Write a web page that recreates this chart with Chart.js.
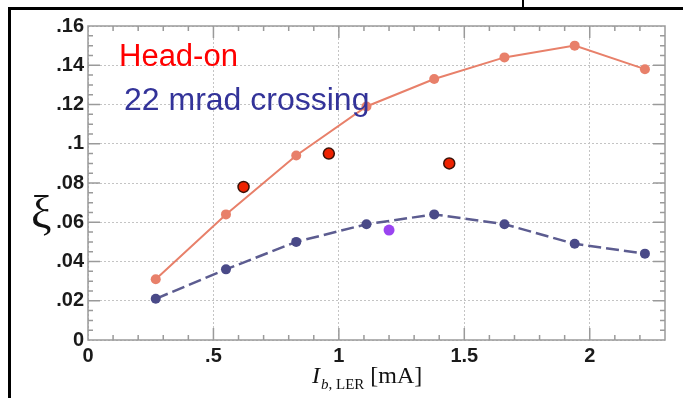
<!DOCTYPE html>
<html>
<head>
<meta charset="utf-8">
<script src="https://cdn.jsdelivr.net/npm/chart.js@4/dist/chart.umd.min.js"></script>
<style>
  body { margin: 0; background: #fff; }
  #wrap { position: relative; width: 683px; height: 398px; overflow: hidden; }
  #chart { position: absolute; left: 0; top: 0; }
  .line { position: absolute; background: #000; }
  .note { position: absolute; font-family: "Liberation Sans", Arial, sans-serif; font-size: 31px; line-height: 31px; white-space: nowrap; }
  .serif { position: absolute; font-family: "Liberation Serif", "Times New Roman", serif; white-space: nowrap; color: #111; }
</style>
</head>
<body>
<div id="wrap">
  <canvas id="chart" width="683" height="398"></canvas>
  <div class="line" style="left:8px;top:7px;width:675px;height:3px"></div>
  <div class="line" style="left:8px;top:7px;width:3px;height:391px"></div>
  <div class="line" style="left:522px;top:0;width:2px;height:9px"></div>
  <div class="note" style="left:119px;top:40px;color:#ff0000">Head-on</div>
  <div class="note" style="left:124px;top:83px;color:#333399;font-size:32px;line-height:32px">22 mrad crossing</div>
  <div class="serif" style="left:31px;top:190px;font-size:46px;line-height:46px">ξ</div>
  <div class="serif" style="left:312px;top:363px;font-size:24px;line-height:24px"><i>I</i><span style="font-size:15px;position:relative;top:6px;margin-left:1px"><i>b</i>, LER</span> [mA]</div>
</div>
<script>
// beam current per bunch [mA]
var currents = [0.27, 0.55, 0.83, 1.11, 1.38, 1.66, 1.94, 2.22];
// beam-beam parameter, simulation
var headOn = [0.031, 0.064, 0.094, 0.119, 0.133, 0.144, 0.150, 0.138];
var crossing = [0.021, 0.036, 0.050, 0.059, 0.064, 0.059, 0.049, 0.044];
// measured points
var measHeadOnX = [0.62, 0.96, 1.44];
var measHeadOnY = [0.078, 0.095, 0.090];
var measCrossX = [1.20];
var measCrossY = [0.056];

var xTicks = [0, 0.5, 1, 1.5, 2];
var yTicks = [0, 0.02, 0.04, 0.06, 0.08, 0.1, 0.12, 0.14, 0.16];

function pts(xs, ys) {
  return xs.map(function (x, i) { return { x: x, y: ys[i] }; });
}
function fmt(v) {
  return v === 0 ? "0" : String(v).replace(/^0/, "");
}

// inward major/minor ticks on all four sides plus the grey box
var tickMarks = {
  id: "tickMarks",
  beforeDatasetsDraw: function (chart) {
    var ctx = chart.ctx, a = chart.chartArea;
    var x = chart.scales.x, y = chart.scales.y;
    ctx.save();
    ctx.strokeStyle = "#9a9a9a";
    ctx.lineWidth = 1.5;
    ctx.beginPath();
    for (var i = 1; i * 0.1 < x.max - 0.01; i++) {
      var px = x.getPixelForValue(i * 0.1);
      var len = i % 5 === 0 ? 12 : 5;
      ctx.moveTo(px, a.bottom); ctx.lineTo(px, a.bottom - len);
      ctx.moveTo(px, a.top); ctx.lineTo(px, a.top + len);
    }
    for (var j = 1; j * 0.005 < y.max - 0.001; j++) {
      var py = y.getPixelForValue(j * 0.005);
      var l = j % 4 === 0 ? 12 : 5;
      ctx.moveTo(a.left, py); ctx.lineTo(a.left + l, py);
      ctx.moveTo(a.right, py); ctx.lineTo(a.right - l, py);
    }
    ctx.stroke();
    ctx.strokeRect(a.left, a.top, a.right - a.left, a.bottom - a.top);
    ctx.restore();
  }
};

var tickFont = { family: "'Liberation Sans Narrow', 'Liberation Sans', sans-serif", size: 20, weight: "bold" };

var ctx = document.getElementById("chart").getContext("2d");
var myChart = new Chart(ctx, {
  type: "scatter",
  data: {
    datasets: [
      {
        label: "Head-on",
        data: pts(currents, headOn),
        showLine: true,
        borderColor: "#e8806a",
        backgroundColor: "#e8806a",
        borderWidth: 2,
        pointRadius: 5,
        pointBorderWidth: 0,
      },
      {
        label: "22 mrad crossing",
        data: pts(currents, crossing),
        showLine: true,
        borderColor: "#5c5c90",
        backgroundColor: "#4a4a88",
        borderWidth: 2.5,
        borderDash: [13, 5],
        pointRadius: 5,
        pointBorderWidth: 0,
      },
      {
        label: "Head-on meas.",
        data: pts(measHeadOnX, measHeadOnY),
        backgroundColor: "#ee2200",
        borderColor: "#3a1208",
        borderWidth: 1.5,
        pointRadius: 5.5,
      },
      {
        label: "Crossing meas.",
        data: pts(measCrossX, measCrossY),
        backgroundColor: "#9a44f0",
        borderWidth: 0,
        pointRadius: 5.5,
      },
    ],
  },
  options: {
    responsive: false,
    animation: false,
    layout: { padding: { left: 48, right: 18, top: 26, bottom: 0 } },
    plugins: { legend: { display: false }, tooltip: { enabled: false } },
    scales: {
      x: {
        type: "linear",
        min: 0,
        max: 2.3,
        afterBuildTicks: function (s) { s.ticks = xTicks.map(function (v) { return { value: v }; }); },
        afterFit: function (s) { s.height = 58; },
        grid: { color: "#c4c4c4", drawTicks: false },
        border: { display: false, dash: [2, 2] },
        ticks: { padding: 4, color: "#1a1a1a", font: tickFont, callback: fmt, maxRotation: 0 },
      },
      y: {
        type: "linear",
        min: 0,
        max: 0.16,
        afterBuildTicks: function (s) { s.ticks = yTicks.map(function (v) { return { value: v }; }); },
        afterFit: function (s) { s.width = 40; },
        grid: { color: "#c4c4c4", drawTicks: false },
        border: { display: false, dash: [2, 2] },
        ticks: { padding: 4, color: "#1a1a1a", font: tickFont, callback: fmt },
      },
    },
  },
  plugins: [tickMarks],
});
</script>
</body>
</html>
